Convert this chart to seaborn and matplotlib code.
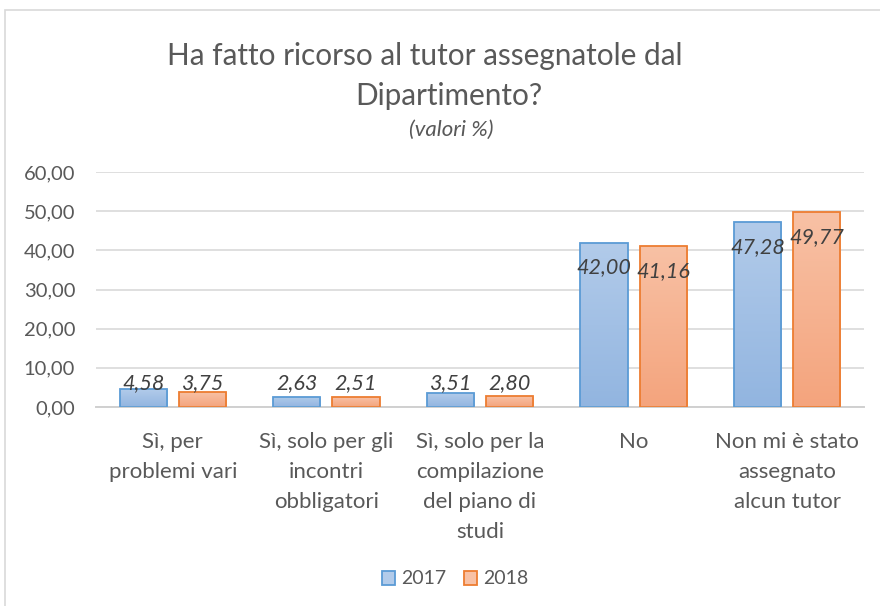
import matplotlib
matplotlib.use("Agg")
import matplotlib.pyplot as plt
import matplotlib.patches as mpatches
from matplotlib.colors import LinearSegmentedColormap
import numpy as np
import pandas as pd
import seaborn as sns

categories = [
    "Sì, per\nproblemi vari",
    "Sì, solo per gli\nincontri\nobbligatori",
    "Sì, solo per la\ncompilazione\ndel piano di\nstudi",
    "No",
    "Non mi è stato\nassegnato\nalcun tutor",
]
years = ["2017", "2018"]
values_2017 = [4.58, 2.63, 3.51, 42.00, 47.28]
values_2018 = [3.75, 2.51, 2.80, 41.16, 49.77]
y_ticks = [0, 10, 20, 30, 40, 50, 60]

df = pd.DataFrame({
    "cat": categories * 2,
    "anno": [years[0]] * 5 + [years[1]] * 5,
    "val": values_2017 + values_2018,
})

sns.set_theme(style="white")
plt.rcParams["font.family"] = ["Lato", "DejaVu Sans"]

edge_colors = {"2017": "#5b9bd5", "2018": "#ed7d31"}
grad = {"2017": ("#92b5e0", "#b2cbea"), "2018": ("#f4a47d", "#f8c1a5")}
grey = "#595959"

fig = plt.figure(figsize=(8.8, 6.06), dpi=100)
ax = fig.add_axes([96 / 880, 1 - 407 / 606, 768 / 880, 235 / 606])

sns.barplot(data=df, x="cat", y="val", hue="anno", order=categories,
            hue_order=years, width=0.77, gap=0.2, palette=edge_colors,
            ax=ax, legend=False)

# bordo + sfumatura delle barre
for container, yr in zip(ax.containers, years):
    cmap = LinearSegmentedColormap.from_list(yr, list(grad[yr]))
    for bar in container:
        bar.set_facecolor("none")
        bar.set_edgecolor(edge_colors[yr])
        bar.set_linewidth(1.3)
        bar.set_zorder(3)
        x0, w, h = bar.get_x(), bar.get_width(), bar.get_height()
        g = np.linspace(0, 1, 100).reshape(-1, 1)
        im = ax.imshow(g, cmap=cmap, extent=[x0, x0 + w, 0, h], origin="lower",
                       aspect="auto", zorder=2)
        im.set_clip_path(bar)
        lab = f"{h:.2f}".replace(".", ",")
        ax.text(x0 + w / 2, max(h - 6.4, 6.1), lab, ha="center", va="center",
                fontsize=15.5, style="italic", color="#404040", zorder=4)

ax.set_xlim(-0.5, 4.5)
ax.set_ylim(0, 60)
ax.set_yticks(y_ticks)
ax.set_yticklabels([f"{t:.2f}".replace(".", ",") for t in y_ticks])
ax.yaxis.grid(True, color="#d9d9d9", linewidth=1.2)
ax.set_axisbelow(True)
for s in ["top", "right", "left"]:
    ax.spines[s].set_visible(False)
ax.spines["bottom"].set_color("#d0d0d0")
ax.spines["bottom"].set_linewidth(1.4)
ax.tick_params(axis="x", length=0, labelsize=16, colors=grey, pad=18)
ax.tick_params(axis="y", length=0, labelsize=14.5, colors=grey, pad=15)
for t in ax.get_xticklabels():
    t.set_linespacing(1.62)
    t.set_va("top")
ax.set_xlabel("")
ax.set_ylabel("")

fig.text(425 / 880, 1 - 56 / 606, "Ha fatto ricorso al tutor assegnatole dal",
         ha="center", va="center", fontsize=21.4, color=grey)
fig.text(449 / 880, 1 - 96 / 606, "Dipartimento?", ha="center", va="center",
         fontsize=21.4, color=grey)
fig.text(451 / 880, 1 - 130 / 606, "(valori %)", ha="center", va="center",
         fontsize=16, color=grey, style="italic")

handles = [mpatches.Patch(facecolor=grad[y][1], edgecolor=edge_colors[y],
                          linewidth=1.3, label=y) for y in years]
fig.legend(handles=handles, loc="center", bbox_to_anchor=(455 / 880, 1 - 579 / 606),
           ncol=2, frameon=False, fontsize=14, labelcolor=grey,
           handlelength=0.7, handleheight=0.7, handletextpad=0.3,
           columnspacing=0.9)

fig.patches.append(mpatches.Rectangle((5 / 880, -0.05), 1.0, 1 - 10 / 606 + 0.05,
                                      transform=fig.transFigure, fill=False,
                                      edgecolor="#d9d9d9", linewidth=1.2))

fig.savefig("out.png", dpi=100)
